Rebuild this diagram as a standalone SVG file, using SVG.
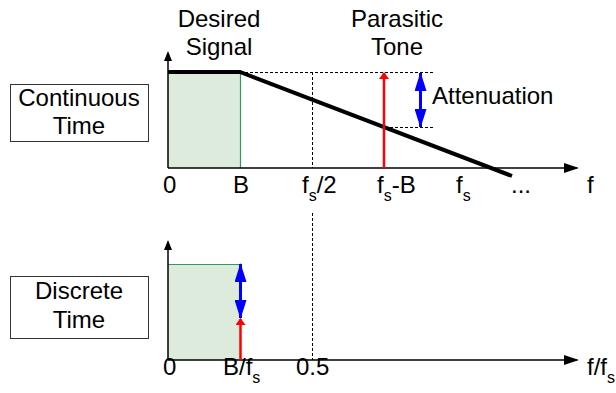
<svg xmlns="http://www.w3.org/2000/svg" width="616" height="393" viewBox="0 0 616 393">
<style>
text{font-family:"Liberation Sans",Arial,sans-serif;font-size:24px;fill:#000}
.sub{font-size:16px}
.box{fill:#fff;stroke:#333;stroke-width:1}
.axis{stroke:#000;stroke-width:1.5;fill:none}
.dash{stroke:#000;stroke-width:1;stroke-dasharray:3,2;fill:none}
.band{fill:#dcebdc;stroke:none}
.edge{stroke:#2e9a5c;stroke-width:1.2;fill:none}
.red{stroke:#ff0000;stroke-width:2.5;fill:none}
.blue{stroke:#0000ff;stroke-width:3;fill:none}
.thick{stroke:#000;stroke-width:4;fill:none}
</style>
<defs>
<marker id="ax" markerUnits="userSpaceOnUse" markerWidth="15" markerHeight="10" refX="13" refY="5" orient="auto"><path d="M0,0 L15,5 L0,10 z" fill="#000"/></marker>
<marker id="ay" markerUnits="userSpaceOnUse" markerWidth="10" markerHeight="8" refX="8" refY="4" orient="auto"><path d="M0,0 L10,4 L0,8 z" fill="#000"/></marker>
<marker id="ar" markerUnits="userSpaceOnUse" markerWidth="7" markerHeight="10" refX="6" refY="5" orient="auto"><path d="M0,0 L7,5 L0,10 z" fill="#ff0000"/></marker>
<marker id="ab" markerUnits="userSpaceOnUse" markerWidth="19" markerHeight="12" refX="18" refY="6" orient="auto-start-reverse"><path d="M0,0 L19,6 L0,12 z" fill="#0000ff"/></marker>
</defs>

<g id="label-continuous">
<rect class="box" x="10.5" y="84.5" width="138" height="57"/>
<text x="79" y="106" text-anchor="middle">Continuous</text>
<text x="79" y="134" text-anchor="middle">Time</text>
</g>
<g id="label-discrete">
<rect class="box" x="10.5" y="276.5" width="138" height="62"/>
<text x="79" y="299" text-anchor="middle">Discrete</text>
<text x="79" y="328" text-anchor="middle">Time</text>
</g>

<g id="top-plot">
<rect class="band" x="168" y="72" width="72" height="96"/>
<line class="edge" x1="240.5" y1="72" x2="240.5" y2="168"/>
<line class="dash" x1="240" y1="72.5" x2="433" y2="72.5"/>
<line class="dash" x1="390" y1="127.5" x2="433" y2="127.5"/>
<line class="dash" x1="312.5" y1="72" x2="312.5" y2="168"/>
<polyline class="thick" points="168,72 240,72 512,176"/>
<text x="219" y="27" text-anchor="middle">Desired</text>
<text x="219" y="55" text-anchor="middle">Signal</text>
<text x="397" y="27" text-anchor="middle">Parasitic</text>
<text x="397" y="55" text-anchor="middle">Tone</text>
<text x="432" y="104">Attenuation</text>
</g>

<g id="bottom-plot">
<rect class="band" x="168" y="264" width="72" height="96"/>
<line class="edge" x1="168" y1="264.5" x2="240" y2="264.5"/>
<line class="dash" x1="312.5" y1="213" x2="312.5" y2="360"/>
</g>

<g id="connectors">
<line class="axis" x1="168" y1="168" x2="577" y2="168" marker-end="url(#ax)"/>
<line class="axis" x1="168" y1="168" x2="168" y2="53" marker-end="url(#ay)"/>
<line class="axis" x1="168" y1="360" x2="577" y2="360" marker-end="url(#ax)"/>
<line class="axis" x1="168" y1="360" x2="168" y2="242" marker-end="url(#ay)"/>
<line class="red" x1="384" y1="168" x2="384" y2="73" marker-end="url(#ar)"/>
<line class="blue" x1="420.5" y1="73" x2="420.5" y2="127" marker-start="url(#ab)" marker-end="url(#ab)"/>
<line class="red" x1="240.5" y1="360" x2="240.5" y2="319" marker-end="url(#ar)"/>
<line class="blue" x1="240.5" y1="264" x2="240.5" y2="318" marker-start="url(#ab)" marker-end="url(#ab)"/>
</g>

<g id="axis-labels">
<text x="163" y="193">0</text>
<text x="233" y="193">B</text>
<text x="302" y="193">f<tspan class="sub" dy="8">s</tspan><tspan dy="-8">/2</tspan></text>
<text x="377" y="193">f<tspan class="sub" dy="8">s</tspan><tspan dy="-8">-B</tspan></text>
<text x="456" y="193">f<tspan class="sub" dy="8">s</tspan></text>
<text x="511" y="193">...</text>
<text x="587" y="193">f</text>
<text x="163" y="375">0</text>
<text x="223" y="375">B/f<tspan class="sub" dy="8">s</tspan></text>
<text x="296" y="375">0.5</text>
<text x="587" y="375">f/f<tspan class="sub" dy="8">s</tspan></text>
</g>
</svg>
